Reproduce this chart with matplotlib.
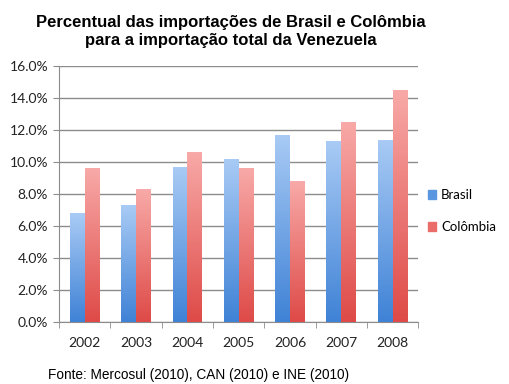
import numpy as np
import matplotlib.pyplot as plt
from matplotlib.patches import Rectangle
from matplotlib.colors import LinearSegmentedColormap

anos = ["2002", "2003", "2004", "2005", "2006", "2007", "2008"]
brasil = [6.8, 7.3, 9.7, 10.2, 11.7, 11.3, 11.4]
colombia = [9.6, 8.3, 10.6, 9.6, 8.8, 12.5, 14.5]

fig = plt.figure(figsize=(5.1, 3.84), dpi=100)
ax = fig.add_axes([0.116, 0.161, 0.704, 0.667])

width = 0.29
x = np.arange(len(anos))

# vertical gradient fill for each bar (light on top, saturated at bottom)
grad_blue = LinearSegmentedColormap.from_list("b", ["#3f82d6", "#a9cbf5"])
grad_red = LinearSegmentedColormap.from_list("r", ["#de4a47", "#f8aaa8"])
grad = np.linspace(0, 1, 256).reshape(-1, 1)

def draw_bars(xs, vals, cmap):
    bars = ax.bar(xs, vals, width, color="none", edgecolor="none", zorder=3)
    for bar in bars:
        x0, w, h = bar.get_x(), bar.get_width(), bar.get_height()
        im = ax.imshow(grad, cmap=cmap, origin="lower", aspect="auto",
                       extent=[x0, x0 + w, 0, h], zorder=3)
        im.set_clip_path(bar)
    return bars

draw_bars(x - width / 2, brasil, grad_blue)
draw_bars(x + width / 2, colombia, grad_red)

ax.set_xlim(-0.5, len(anos) - 0.5)
ax.set_ylim(0, 16)
ax.set_yticks(np.arange(0, 16.1, 2))
ax.set_yticklabels([f"{v:.1f}%" for v in np.arange(0, 16.1, 2)])
ax.set_xticks(x)
ax.set_xticklabels(anos)
ax.set_xticks(np.arange(-0.5, len(anos), 1), minor=True)

ax.grid(axis="y", color="#8c8c8c", linewidth=1.0, zorder=0)
for s in ["top", "right"]:
    ax.spines[s].set_visible(False)
ax.spines["left"].set_color("#8c8c8c")
ax.spines["bottom"].set_color("#8c8c8c")
ax.tick_params(axis="x", which="major", length=0, pad=11, labelsize=10)
ax.tick_params(axis="x", which="minor", length=4, color="#8c8c8c")
ax.tick_params(axis="y", length=4, color="#8c8c8c", labelsize=10, pad=4)
for lab in ax.get_xticklabels() + ax.get_yticklabels():
    lab.set_fontfamily("Lato")
    lab.set_color("#222222")

# legend
handles = [Rectangle((0, 0), 1, 1, color="#5b97e0"), Rectangle((0, 0), 1, 1, color="#ea6d6a")]
fig.legend(handles, ["Brasil", "Colômbia"], loc="center left", bbox_to_anchor=(0.84, 0.45),
           frameon=False, handlelength=0.6, handleheight=0.6, handletextpad=0.35,
           borderaxespad=0, borderpad=0,
           labelspacing=1.5, prop={"family": "Lato", "size": 9.5})

fig.text(0.452, 0.918, "Percentual das importações de Brasil e Colômbia\npara a importação total da Venezuela",
         ha="center", va="center", fontsize=12, fontweight="bold", family="Liberation Sans",
         linespacing=1.2)
fig.text(0.094, 0.023, "Fonte: Mercosul (2010), CAN (2010) e INE (2010)",
         ha="left", va="center", fontsize=9.8, family="Liberation Sans")

fig.savefig("out.png", dpi=100)
